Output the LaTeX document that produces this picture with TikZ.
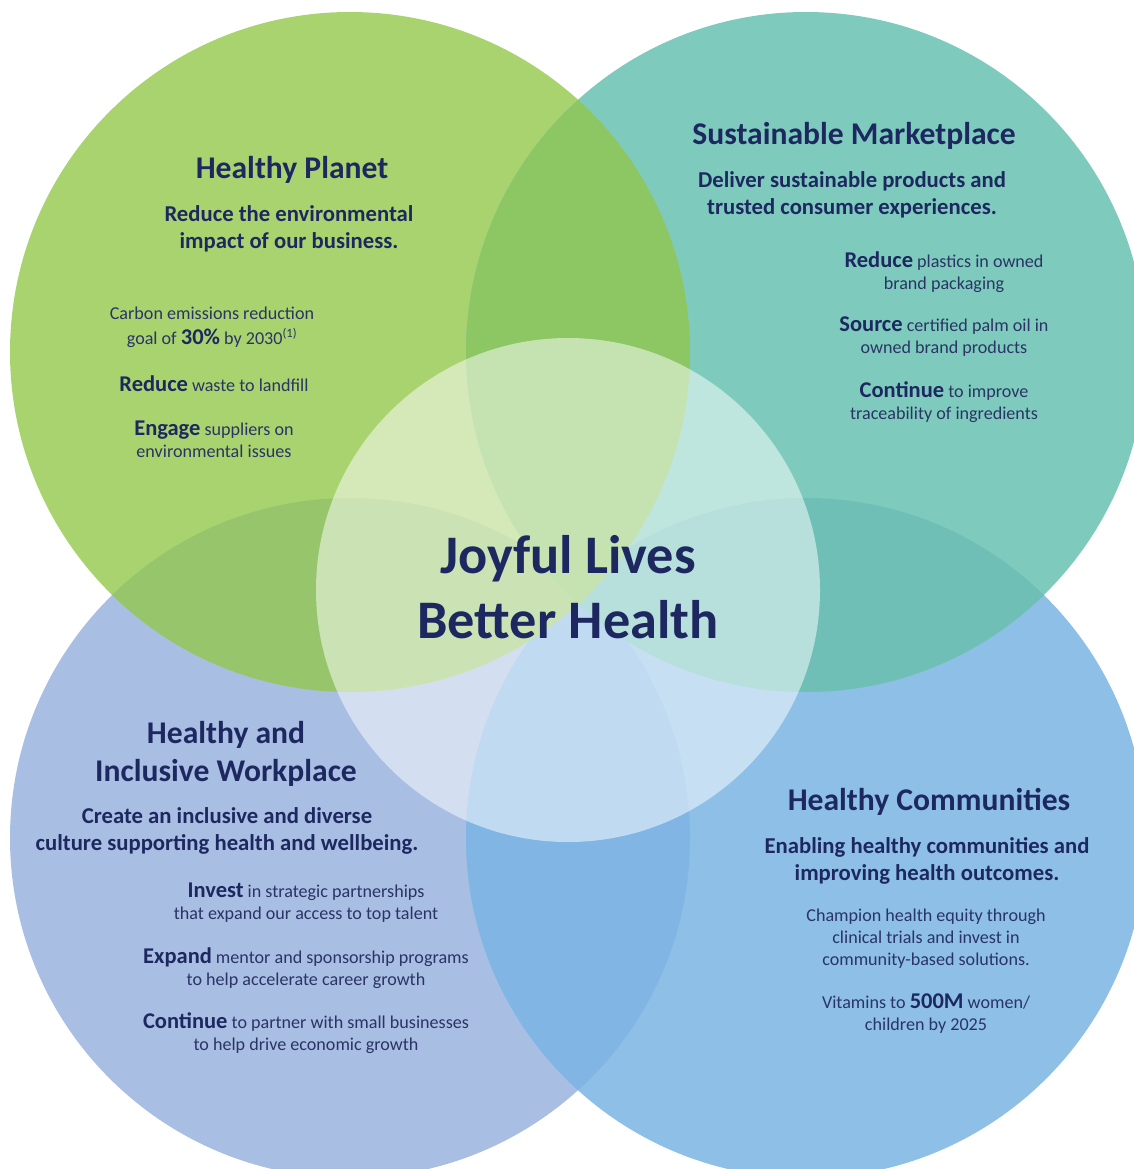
\documentclass[tikz,border=0pt]{standalone}
\usepackage{fontspec}
\setmainfont{Carlito}
\definecolor{cgreen}{HTML}{A9D36F}
\definecolor{cteal}{HTML}{7ECBBE}
\definecolor{cpurple}{HTML}{A9BEE3}
\definecolor{cblue}{HTML}{8DBFE7}
\definecolor{ovGT}{HTML}{8CC763}
\definecolor{ovGP}{HTML}{97C56C}
\definecolor{ovTB}{HTML}{6FBFB7}
\definecolor{ovPB}{HTML}{81B5E3}
\definecolor{navy}{HTML}{1E2860}
\definecolor{bodyc}{HTML}{2A3465}
\tikzset{
  ttl/.style={font=\fontsize{31.6}{38}\selectfont\bfseries, text=navy, align=center, inner sep=0pt},
  subt/.style={font=\fontsize{22.7}{27}\selectfont\bfseries, text=navy, align=center, inner sep=0pt},
  bodyt/.style={font=\fontsize{18.1}{22}\selectfont, text=bodyc, align=center, inner sep=0pt},
  bigt/.style={font=\fontsize{54.3}{65}\selectfont\bfseries, text=navy, align=center, inner sep=0pt}
}
\newcommand{\kw}[1]{{\fontsize{22.5}{22}\selectfont\bfseries\color{navy}#1}}
\begin{document}
\begin{tikzpicture}[x=1pt,y=-1pt]
\clip (0,0) rectangle (1134,1169);
\fill[white] (0,0) rectangle (1134,1169);
\coordinate (cTL) at (350,352);
\coordinate (cTR) at (806,352);
\coordinate (cBL) at (350,838);
\coordinate (cBR) at (806,838);
\coordinate (cC) at (568,590);
% base circles
\fill[cpurple] (cBL) circle[radius=340pt];
\fill[cblue] (cBR) circle[radius=340pt];
\fill[cgreen] (cTL) circle[radius=340pt];
\fill[cteal] (cTR) circle[radius=340pt];
% overlaps
\begin{scope}
  \clip (cBL) circle[radius=340pt];
  \fill[ovPB] (cBR) circle[radius=340pt];
\end{scope}
\begin{scope}
  \clip (cTR) circle[radius=340pt];
  \fill[ovTB] (cBR) circle[radius=340pt];
\end{scope}
\begin{scope}
  \clip (cTL) circle[radius=340pt];
  \fill[ovGP] (cBL) circle[radius=340pt];
\end{scope}
\begin{scope}
  \clip (cTL) circle[radius=340pt];
  \fill[ovGT] (cTR) circle[radius=340pt];
\end{scope}
% centre circle
\fill[white, fill opacity=0.5] (cC) circle[radius=252pt];

% Healthy Planet
\node[ttl] (hpT) at (292,170) {Healthy Planet};
\node[subt] (hpS) at (289,229) {Reduce the environmental\\impact of our business.};
\node[bodyt] (hp1) at (212,327) {Carbon emissions reduction\\[3pt]goal of \kw{30\%} by 2030\textsuperscript{(1)}};
\node[bodyt] (hp2) at (214,384) {\kw{Reduce} waste to landfill};
\node[bodyt] (hp3) at (214,439) {\kw{Engage} suppliers on\\environmental issues};

% Sustainable Marketplace
\node[ttl] (smT) at (854,136) {Sustainable Marketplace};
\node[subt] (smS) at (852,195) {Deliver sustainable products and\\trusted consumer experiences.};
\node[bodyt] (sm1) at (944,272) {\kw{Reduce} plastics in owned\\brand packaging};
\node[bodyt] (sm2) at (944,337) {\kw{Source} certified palm oil in\\owned brand products};
\node[bodyt] (sm3) at (944,402) {\kw{Continue} to improve\\traceability of ingredients};

% Centre
\node[bigt] (ctr) at (568,587) {Joyful Lives\\Better Health};

% Healthy and Inclusive Workplace
\node[ttl] (hiT) at (226,754) {Healthy and\\Inclusive Workplace};
\node[subt] (hiS) at (227,831) {Create an inclusive and diverse\\culture supporting health and wellbeing.};
\node[bodyt] (hi1) at (306,903) {\kw{Invest} in strategic partnerships\\that expand our access to top talent};
\node[bodyt] (hi2) at (306,968) {\kw{Expand} mentor and sponsorship programs\\to help accelerate career growth};
\node[bodyt] (hi3) at (306,1033) {\kw{Continue} to partner with small businesses\\to help drive economic growth};

% Healthy Communities
\node[ttl] (hcT) at (929,802) {Healthy Communities};
\node[subt] (hcS) at (927,861) {Enabling healthy communities and\\improving health outcomes.};
\node[bodyt] (hc1) at (926,939) {Champion health equity through\\clinical trials and invest in\\community-based solutions.};
\node[bodyt] (hc2) at (926,1014) {Vitamins to \kw{500M} women/\\children by 2025};
\end{tikzpicture}
\end{document}
